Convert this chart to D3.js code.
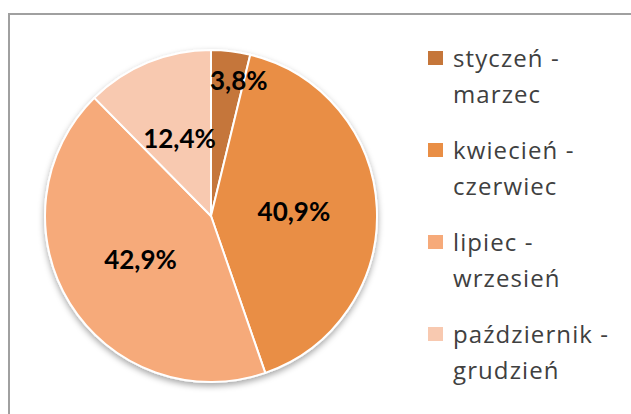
<!DOCTYPE html>
<html>
<head>
<meta charset="utf-8">
<script src="https://cdn.jsdelivr.net/npm/d3@7"></script>
<style>
  html, body { margin: 0; padding: 0; background: #fff; }
  svg { display: block; }
</style>
</head>
<body>
<div id="chart"></div>
<script>
// chart data
const categories = ["styczeń - marzec", "kwiecień - czerwiec", "lipiec - wrzesień", "październik - grudzień"];
const values = [3.8, 40.9, 42.9, 12.4];
const colors = ["#C5763A", "#E98E45", "#F6AA7A", "#F8C9B0"];

const width = 631, height = 414;
const cx = 211, cy = 216, radius = 166;

const svg = d3.select("#chart")
  .append("svg")
  .attr("width", width)
  .attr("height", height);

// frame (only left and top edges fall inside the picture)
svg.append("path")
  .attr("d", `M9,${height + 2} L9,14 L${width + 2},14`)
  .attr("fill", "none")
  .attr("stroke", "#a0a0a0")
  .attr("stroke-width", 2);

const defs = svg.append("defs");
const shadow = defs.append("filter")
  .attr("id", "shadow")
  .attr("x", "-20%").attr("y", "-20%")
  .attr("width", "140%").attr("height", "140%");
shadow.append("feDropShadow")
  .attr("dx", 0).attr("dy", 3)
  .attr("stdDeviation", 3)
  .attr("flood-color", "#000")
  .attr("flood-opacity", 0.35);

const pl = d3.formatLocale({decimal: ",", thousands: " ", grouping: [3], currency: ["", " zł"]});
const fmt = pl.format(".1%");

const pie = d3.pie().sort(null).value(d => d);
const arcs = pie(values);
const arc = d3.arc().innerRadius(0).outerRadius(radius);

const g = svg.append("g")
  .attr("transform", `translate(${cx},${cy})`);

g.append("g")
  .attr("filter", "url(#shadow)")
  .selectAll("path")
  .data(arcs)
  .enter().append("path")
  .attr("d", arc)
  .attr("fill", (d, i) => colors[i])
  .attr("stroke", "#fff")
  .attr("stroke-width", 2)
  .attr("stroke-linejoin", "round");

// labels: centroid for wide slices, pushed outward for narrow ones
const outerLabel = d3.arc().innerRadius(radius * 0.82).outerRadius(radius * 0.82);
g.selectAll("text.lbl")
  .data(arcs)
  .enter().append("text")
  .attr("class", "lbl")
  .each(function (d) {
    const narrow = (d.endAngle - d.startAngle) < 0.4;
    const t = d3.select(this);
    if (narrow) {
      const p = outerLabel.centroid(d);
      t.attr("x", Math.sin(d.startAngle) * radius * 0.82 - 1)
        .attr("y", p[1])
        .attr("text-anchor", "start");
    } else {
      const p = arc.centroid(d);
      t.attr("x", p[0]).attr("y", p[1]).attr("text-anchor", "middle");
    }
  })
  .attr("dy", "0.35em")
  .style("font-family", "Lato, 'Open Sans', sans-serif")
  .style("font-weight", "bold")
  .style("font-size", "26px")
  .attr("fill", "#000")
  .text(d => fmt(d.data / 100));

// legend
const legend = svg.append("g")
  .attr("transform", "translate(428,51)");

const item = legend.selectAll("g")
  .data(categories)
  .enter().append("g")
  .attr("transform", (d, i) => `translate(0,${i * 92})`);

item.append("rect")
  .attr("width", 15)
  .attr("height", 14)
  .attr("fill", (d, i) => colors[i]);

item.append("text")
  .attr("x", 25)
  .attr("y", 16)
  .style("font-family", "'Open Sans', Lato, sans-serif")
  .style("font-size", "24px")
  .style("letter-spacing", "1.1px")
  .attr("fill", "#404040")
  .selectAll("tspan")
  .data(d => {
    const parts = d.split(" - ");
    return [parts[0] + " -", parts[1]];
  })
  .enter().append("tspan")
  .attr("x", 25)
  .attr("dy", (d, i) => i === 0 ? 0 : 36)
  .text(d => d);
</script>
</body>
</html>
